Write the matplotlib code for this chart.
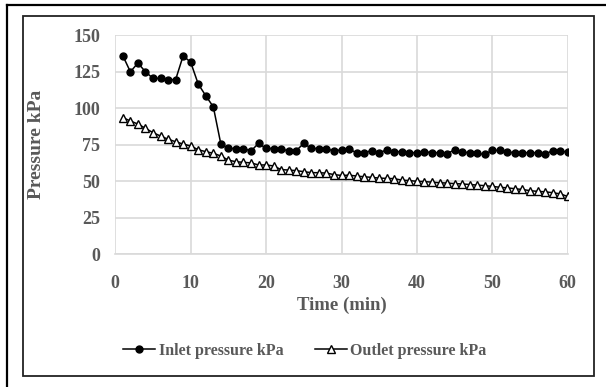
import numpy as np
import matplotlib.pyplot as plt
from matplotlib.lines import Line2D
from matplotlib.patches import Rectangle

time_min = list(range(1, 61))

inlet_kpa = [136, 125, 131, 125, 120.5, 120.5, 119.6, 119.6, 136, 131.5,
             116.6, 108.6, 101, 75.5, 72.5, 72.4, 72.4, 70.8, 76, 72.5,
             72.4, 71.9, 71, 71, 76, 72.5, 72.4, 72, 71, 71.4,
             72, 69.6, 69.6, 71, 69.6, 71.5, 70.3, 70.3, 69.6, 69.6,
             70.3, 69.6, 69.6, 69, 71.5, 70, 69.6, 69.2, 68.4, 71.2,
             71.2, 70, 69.6, 69.6, 69.6, 69.6, 68.6, 71, 71, 69.8]

outlet_kpa = [93.6, 91.3, 89.2, 86.3, 83.3, 81, 78.8, 77.1, 75.5, 74.2,
              71.6, 70.3, 69.2, 67.3, 64.5, 63.4, 63, 62.6, 61.2, 61.2,
              60.5, 58, 57.7, 57.3, 56.6, 55.9, 55.9, 55.6, 54.6, 54,
              54.2, 53.6, 53.1, 52.7, 52.2, 52, 51.8, 50.8, 50.5, 50,
              49.8, 49.4, 49, 48.8, 48.4, 48.2, 47.8, 47.4, 47, 46.5,
              45.9, 45.5, 44.9, 44.4, 43.6, 43.1, 42.8, 42.2, 41.4, 39.6]

x_ticks = [0, 10, 20, 30, 40, 50, 60]
y_ticks = [0, 25, 50, 75, 100, 125, 150]

W, H = 606, 387
grey_text = "#595959"
grid_col = "#d9d9d9"

plt.rcParams['font.family'] = ['Liberation Serif', 'DejaVu Serif']
plt.rcParams['font.weight'] = 'bold'

fig = plt.figure(figsize=(W / 100, H / 100), dpi=100)
fig.patch.set_facecolor("white")

# outer frame (only top/left visible in the crop) and inner chart box
fig.add_artist(Line2D([7 / W, 1.0], [1 - 5 / H, 1 - 5 / H], color="black", lw=1.6))
fig.add_artist(Line2D([7 / W, 7 / W], [0, 1 - 5 / H], color="black", lw=1.6))
fig.add_artist(Rectangle((23 / W, 1 - 376 / H), (594 - 23) / W, (376 - 16) / H,
                         fill=False, edgecolor="#222222", lw=1.3))

ax = fig.add_axes([115.3 / W, 1 - 254.3 / H, 452.4 / W, 219 / H])

ax.plot(time_min, inlet_kpa, color="black", lw=1.1, marker="o", markersize=5,
        markerfacecolor="black", label="Inlet pressure kPa", zorder=3)
ax.plot(time_min, outlet_kpa, color="black", lw=1.1, marker="^", markersize=5.5,
        markerfacecolor="white", markeredgecolor="black", markeredgewidth=1.0,
        label="Outlet pressure kPa", zorder=3)

ax.set_xlim(0, 60)
ax.set_ylim(0, 150)
ax.set_xticks(x_ticks)
ax.set_yticks(y_ticks)
ax.grid(True, color=grid_col, lw=1.2)
ax.set_axisbelow(True)
for s in ["top", "right", "left"]:
    ax.spines[s].set_visible(False)
ax.spines["bottom"].set_color(grid_col)
ax.spines["bottom"].set_linewidth(1.2)
ax.tick_params(length=0, labelsize=13, labelcolor=grey_text)
ax.tick_params(axis="x", pad=15)
ax.tick_params(axis="y", pad=11)

ax.set_xlabel("Time (min)", fontsize=13.5, color=grey_text, fontweight="bold", labelpad=3)
ax.set_ylabel("Pressure kPa", fontsize=14, color=grey_text, fontweight="bold", labelpad=20)

leg = fig.legend(loc="center", bbox_to_anchor=(305 / W, 1 - 351 / H), ncol=2,
                 frameon=False, fontsize=11.5, handlelength=2.0, columnspacing=2.0,
                 handletextpad=0.2)
for t in leg.get_texts():
    t.set_color(grey_text)

fig.savefig("out.png", dpi=100)
